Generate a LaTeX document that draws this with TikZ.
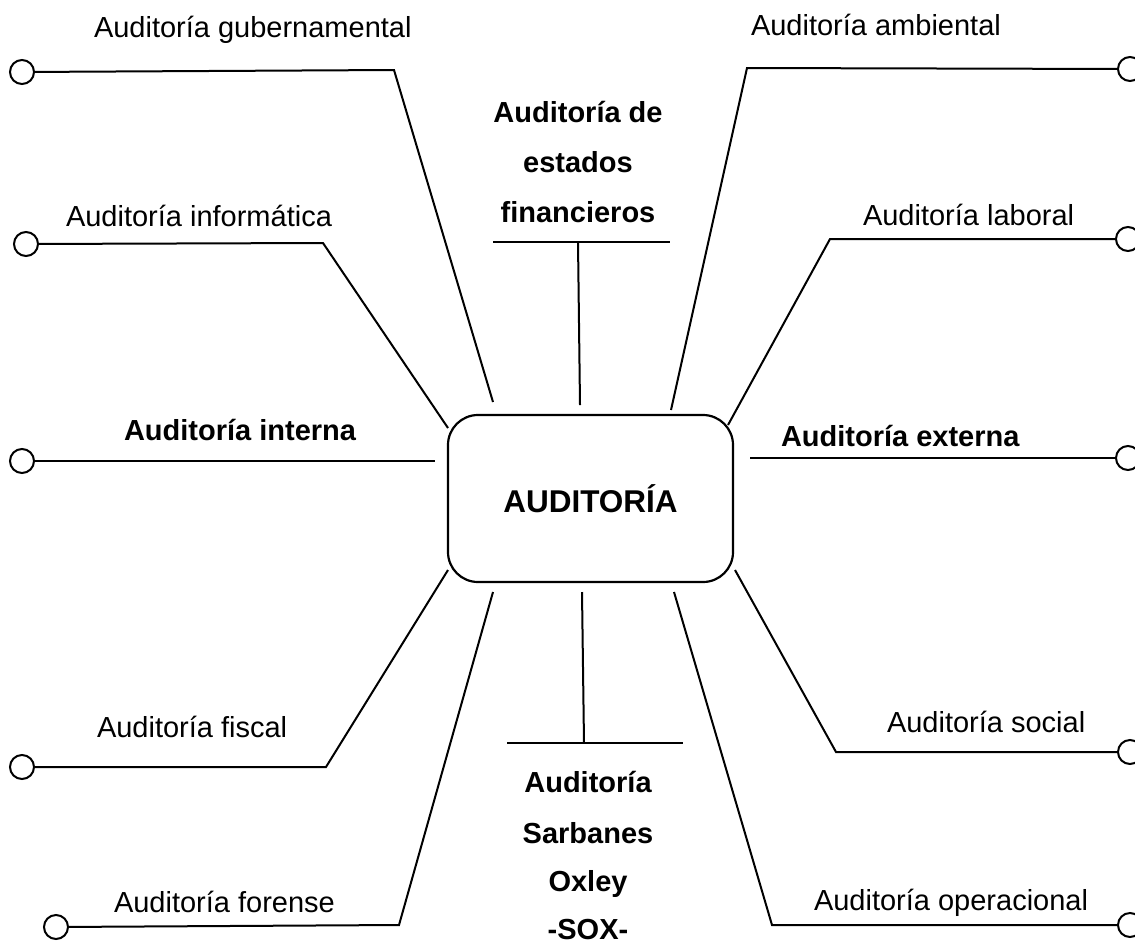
\documentclass[tikz,border=0pt]{standalone}
\usepackage{fontspec}
\setmainfont{Liberation Sans}
\begin{document}
\begin{tikzpicture}[x=1pt,y=-1pt,
  line width=2pt, line join=miter,
  lbl/.style={font=\fontsize{29}{34}\selectfont, inner sep=0pt},
  lblb/.style={font=\fontsize{29}{34}\selectfont\bfseries, inner sep=0pt},
  dot/.style={circle, draw, fill=white, minimum size=24pt, inner sep=0pt, line width=2pt},
  hub/.style={draw, rounded corners=30pt, minimum width=285pt, minimum height=167pt,
              inner sep=0pt, line width=2.2pt, font=\fontsize{31.5}{36}\selectfont\bfseries}]
\useasboundingbox (0,0) rectangle (1135,946);

% central box
\node[hub] (hub) at (590.5,498.5) {AUDITORÍA};

% ---------- left branches ----------
\node[dot] (cG) at (22,72) {};
\coordinate (kG) at (394,70);
\coordinate (eG) at (493,402);
\node[lbl, anchor=base west] (tG) at (93,37) {Auditoría gubernamental};

\node[dot] (cI) at (26,244) {};
\coordinate (kI) at (323,243);
\coordinate (eI) at (448,428);
\node[lbl, anchor=base west] (tI) at (65,226) {Auditoría informática};

\node[dot] (cN) at (22,461) {};
\coordinate (eN) at (435,461);
\node[lblb, anchor=base west] (tN) at (123,440) {Auditoría interna};

\node[dot] (cF) at (22,767) {};
\coordinate (kF) at (326,767);
\coordinate (eF) at (448,570);
\node[lbl, anchor=base west] (tF) at (96,737) {Auditoría fiscal};

\node[dot] (cR) at (56,927) {};
\coordinate (kR) at (399,925);
\coordinate (eR) at (493,592);
\node[lbl, anchor=base west] (tR) at (113,912) {Auditoría forense};

% ---------- right branches ----------
\node[dot] (cA) at (1130,69) {};
\coordinate (kA) at (747,68);
\coordinate (eA) at (671,410);
\node[lbl, anchor=base west] (tA) at (750,35) {Auditoría ambiental};

\node[dot] (cL) at (1128,239) {};
\coordinate (kL) at (830,239);
\coordinate (eL) at (728,425);
\node[lbl, anchor=base west] (tL) at (862,225) {Auditoría laboral};

\node[dot] (cE) at (1128,458) {};
\coordinate (eE) at (750,458);
\node[lblb, anchor=base west] (tE) at (780,446) {Auditoría externa};

\node[dot] (cS) at (1130,752) {};
\coordinate (kS) at (836,752);
\coordinate (eS) at (735,570);
\node[lbl, anchor=base west] (tS) at (886,732) {Auditoría social};

\node[dot] (cO) at (1130,925) {};
\coordinate (kO) at (772,925);
\coordinate (eO) at (674,592);
\node[lbl, anchor=base west] (tO) at (813,910) {Auditoría operacional};

% ---------- top and bottom stems ----------
\node[lblb, anchor=base] (fa) at (578,122) {Auditoría de};
\node[lblb, anchor=base] (fb) at (578,172) {estados};
\node[lblb, anchor=base] (fc) at (578,222) {financieros};
\coordinate (tl) at (493,242);
\coordinate (tr) at (670,242);
\coordinate (tm) at (578,242);
\coordinate (te) at (580,405);

\coordinate (bl) at (507,743);
\coordinate (br) at (683,743);
\coordinate (bm) at (584,743);
\coordinate (bs) at (582,592);
\node[lblb, anchor=base] (sa) at (588,792) {Auditoría};
\node[lblb, anchor=base] (sb) at (588,843) {Sarbanes};
\node[lblb, anchor=base] (sc) at (588,891) {Oxley};
\node[lblb, anchor=base] (sd) at (588,939) {-SOX-};

% connectors
\draw (cG) -- (kG) -- (eG);
\draw (cI) -- (kI) -- (eI);
\draw (cN) -- (eN);
\draw (cF) -- (kF) -- (eF);
\draw (cR) -- (kR) -- (eR);
\draw (cA) -- (kA) -- (eA);
\draw (cL) -- (kL) -- (eL);
\draw (cE) -- (eE);
\draw (cS) -- (kS) -- (eS);
\draw (cO) -- (kO) -- (eO);
\draw (tl) -- (tr);
\draw (tm) -- (te);
\draw (bl) -- (br);
\draw (bm) -- (bs);
\end{tikzpicture}
\end{document}
